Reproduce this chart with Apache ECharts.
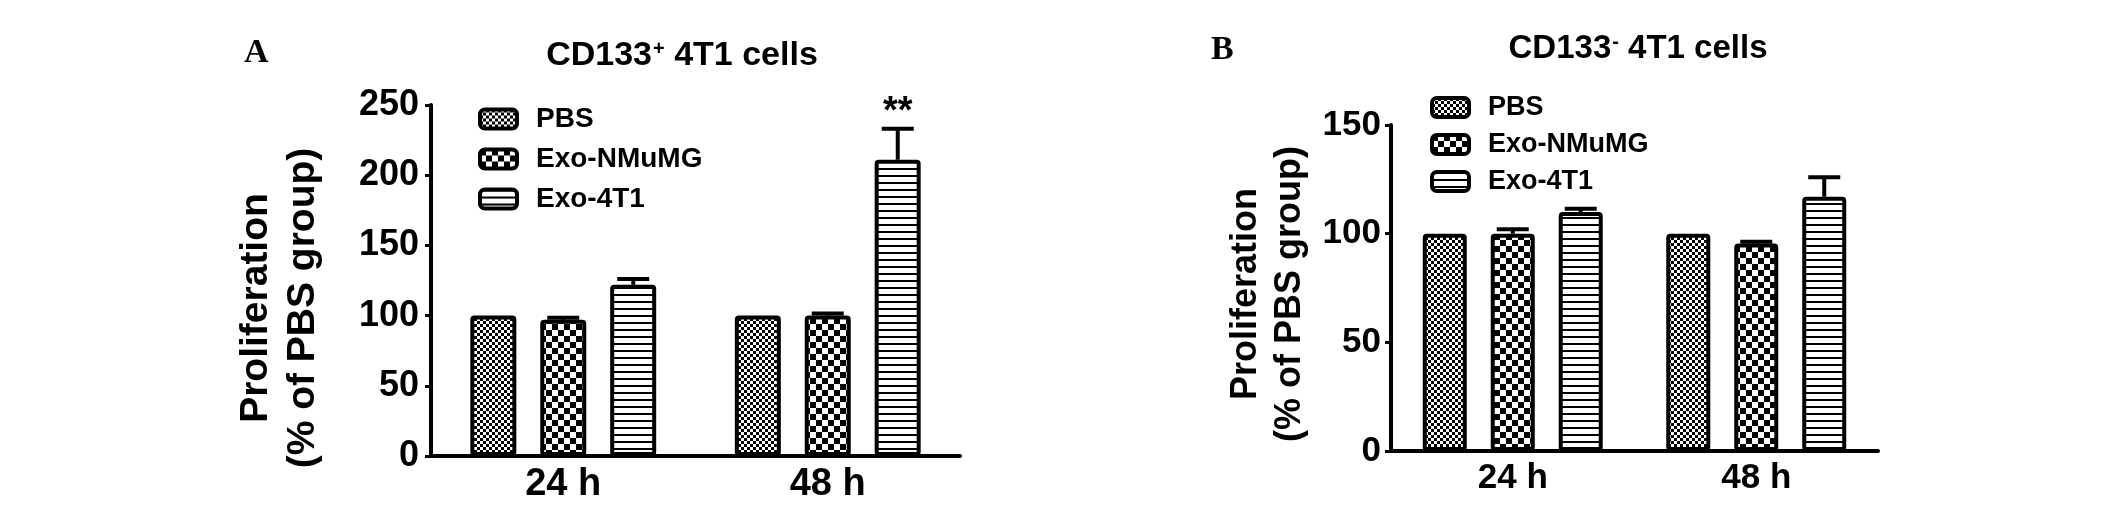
<!DOCTYPE html>
<html>
<head>
<meta charset="utf-8">
<script src="https://cdn.jsdelivr.net/npm/echarts@6/dist/echarts.min.js"></script>
<style>
html,body{margin:0;padding:0;background:#fff;}
#chart{width:2126px;height:517px;}
</style>
</head>
<body>
<div id="chart"></div>
<script>
// ---------- data ----------
const categories = ['24 h', '48 h'];
const seriesNames = ['PBS', 'Exo-NMuMG', 'Exo-4T1'];

// Panel A: CD133+ 4T1 cells
const pbsA = [100, 100];
const nmumgA = [97, 100];
const t1A = [122, 211];
const pbsAErr = [0, 0];
const nmumgAErr = [1.5, 1.5];
const t1AErr = [4, 22];
const t1ASig = ['', '**'];
const yTicksA = { min: 0, max: 250, interval: 50 };

// Panel B: CD133- 4T1 cells
const pbsB = [100, 100];
const nmumgB = [100, 95.5];
const t1B = [110, 117];
const pbsBErr = [0, 0];
const nmumgBErr = [2, 0.8];
const t1BErr = [1.5, 9];
const yTicksB = { min: 0, max: 150, interval: 50 };

// ---------- styles ----------
const FONT = "'Liberation Sans', Arial, sans-serif";
const SERIF = "'Liberation Serif', 'Times New Roman', serif";

function makePattern(type) {
  const c = document.createElement('canvas');
  let ctx;
  if (type === 'fine') {
    c.width = 6; c.height = 6; ctx = c.getContext('2d');
    ctx.fillStyle = '#fff'; ctx.fillRect(0, 0, 6, 6);
    ctx.fillStyle = '#000'; ctx.fillRect(0, 0, 3, 3); ctx.fillRect(3, 3, 3, 3);
  } else if (type === 'checker') {
    c.width = 12; c.height = 12; ctx = c.getContext('2d');
    ctx.fillStyle = '#fff'; ctx.fillRect(0, 0, 12, 12);
    ctx.fillStyle = '#000'; ctx.fillRect(0, 0, 6, 6); ctx.fillRect(6, 6, 6, 6);
  } else {
    c.width = 8; c.height = 7; ctx = c.getContext('2d');
    ctx.fillStyle = '#fff'; ctx.fillRect(0, 0, 8, 7);
    ctx.fillStyle = '#000'; ctx.fillRect(0, 0, 8, 2);
  }
  return { image: c, repeat: 'repeat' };
}
const fills = [makePattern('fine'), makePattern('checker'), makePattern('stripe')];

const chart = echarts.init(document.getElementById('chart'), null, { renderer: 'canvas' });

function axisX(gi, fs) {
  return {
    gridIndex: gi, type: 'category', data: categories,
    axisLine: { lineStyle: { color: '#000', width: 4 } },
    axisTick: { alignWithLabel: true, length: 9, lineStyle: { color: '#000', width: 3 } },
    axisLabel: { fontSize: fs, fontWeight: 'bold', fontFamily: FONT, color: '#000', margin: 10 },
    splitLine: { show: false }
  };
}
function axisY(gi, t, fs, margin) {
  return {
    gridIndex: gi, type: 'value', min: t.min, max: t.max, interval: t.interval,
    axisLine: { show: true, lineStyle: { color: '#000', width: 4 } },
    axisTick: { show: true, length: 6, lineStyle: { color: '#000', width: 3 } },
    axisLabel: { fontSize: fs, fontWeight: 'bold', fontFamily: FONT, color: '#000', margin: margin },
    splitLine: { show: false }
  };
}

function barSeries(gi, k, data, bw, gap) {
  return {
    type: 'bar', name: seriesNames[k], xAxisIndex: gi, yAxisIndex: gi,
    data: data, barWidth: bw, barGap: gap,
    itemStyle: { color: fills[k], borderColor: '#000', borderWidth: 4, borderRadius: 2 },
    emphasis: { disabled: true }, z: 2
  };
}

function errSeries(gi, k, means, errs, sig, step) {
  return {
    type: 'custom', name: 'err' + gi + k, xAxisIndex: gi, yAxisIndex: gi, z: 3,
    silent: true,
    data: categories.map((c, i) => [i, means[i], errs[i]]),
    renderItem: function (params, api) {
      const i = api.value(0), m = api.value(1), e = api.value(2);
      const base = api.coord([i, m]);
      const top = api.coord([i, m + e]);
      const x = base[0] + (k - 1) * step;
      const children = [];
      if (e > 0) {
        children.push({ type: 'line', shape: { x1: x, y1: base[1], x2: x, y2: top[1] },
          style: { stroke: '#000', lineWidth: 4 } });
        children.push({ type: 'line', shape: { x1: x - 16, y1: top[1], x2: x + 16, y2: top[1] },
          style: { stroke: '#000', lineWidth: 4 } });
      }
      const s = sig ? sig[params.dataIndex] : '';
      if (s) {
        children.push({ type: 'text', x: x, y: top[1] - 16,
          style: { text: s, fontSize: 38, fontWeight: 'bold', fontFamily: FONT, fill: '#000',
            align: 'center', verticalAlign: 'middle' } });
      }
      return { type: 'group', children: children };
    }
  };
}

function legend(left, top, fs, gap) {
  return {
    data: seriesNames, orient: 'vertical', left: left, top: top,
    itemWidth: 37, itemHeight: 19, itemGap: gap, icon: 'roundRect', selectedMode: false,
    itemStyle: { borderColor: '#000', borderWidth: 4 },
    textStyle: { fontSize: fs, fontWeight: 'bold', fontFamily: FONT, color: '#000', padding: [0, 0, 0, 14] }
  };
}

function titleRich(fs) {
  return {
    a: { fontSize: fs, fontWeight: 'bold', fontFamily: FONT, color: '#000' },
    s: { fontSize: Math.round(fs * 0.6), fontWeight: 'bold', fontFamily: FONT, color: '#000', verticalAlign: 'top', padding: [0, 0, 0, 1] }
  };
}

const option = {
  backgroundColor: '#fff',
  animation: false,
  title: [
    { text: 'A', left: 244, top: 36, padding: 0,
      textStyle: { fontFamily: SERIF, fontSize: 34, fontWeight: 'bold', color: '#000' } },
    { text: 'B', left: 1211, top: 33, padding: 0,
      textStyle: { fontFamily: SERIF, fontSize: 34, fontWeight: 'bold', color: '#000' } },
    { text: '{a|CD133}{s|+}{a| 4T1 cells}', left: 682, top: 39, textAlign: 'center', padding: 0,
      textStyle: { rich: titleRich(34) } },
    { text: '{a|CD133}{s|-}{a| 4T1 cells}', left: 1638, top: 32, textAlign: 'center', padding: 0,
      textStyle: { rich: titleRich(33) } }
  ],
  legend: [legend(473, 100, 28, 12), legend(1425, 89, 27, 10)],
  grid: [
    { left: 431, top: 105, width: 529, height: 351 },
    { left: 1391, top: 125, width: 487, height: 326 }
  ],
  xAxis: [axisX(0, 38), axisX(1, 35)],
  yAxis: [axisY(0, yTicksA, 36, 12), axisY(1, yTicksB, 35, 10)],
  graphic: [
    { type: 'text', x: 280, y: 308, rotation: Math.PI / 2,
      style: { text: 'Proliferation\n(% of PBS group)', fontSize: 39, fontWeight: 'bold', fontFamily: FONT,
        fill: '#000', align: 'center', verticalAlign: 'middle', lineHeight: 47 } },
    { type: 'text', x: 1268, y: 294, rotation: Math.PI / 2,
      style: { text: 'Proliferation\n(% of PBS group)', fontSize: 36, fontWeight: 'bold', fontFamily: FONT,
        fill: '#000', align: 'center', verticalAlign: 'middle', lineHeight: 44 } }
  ],
  series: [
    barSeries(0, 0, pbsA, 46, '52%'),
    barSeries(0, 1, nmumgA, 46, '52%'),
    barSeries(0, 2, t1A, 46, '52%'),
    errSeries(0, 0, pbsA, pbsAErr, null, 70),
    errSeries(0, 1, nmumgA, nmumgAErr, null, 70),
    errSeries(0, 2, t1A, t1AErr, t1ASig, 70),
    barSeries(1, 0, pbsB, 44, '54.5%'),
    barSeries(1, 1, nmumgB, 44, '54.5%'),
    barSeries(1, 2, t1B, 44, '54.5%'),
    errSeries(1, 0, pbsB, pbsBErr, null, 68),
    errSeries(1, 1, nmumgB, nmumgBErr, null, 68),
    errSeries(1, 2, t1B, t1BErr, null, 68)
  ]
};
chart.setOption(option);
</script>
</body>
</html>
